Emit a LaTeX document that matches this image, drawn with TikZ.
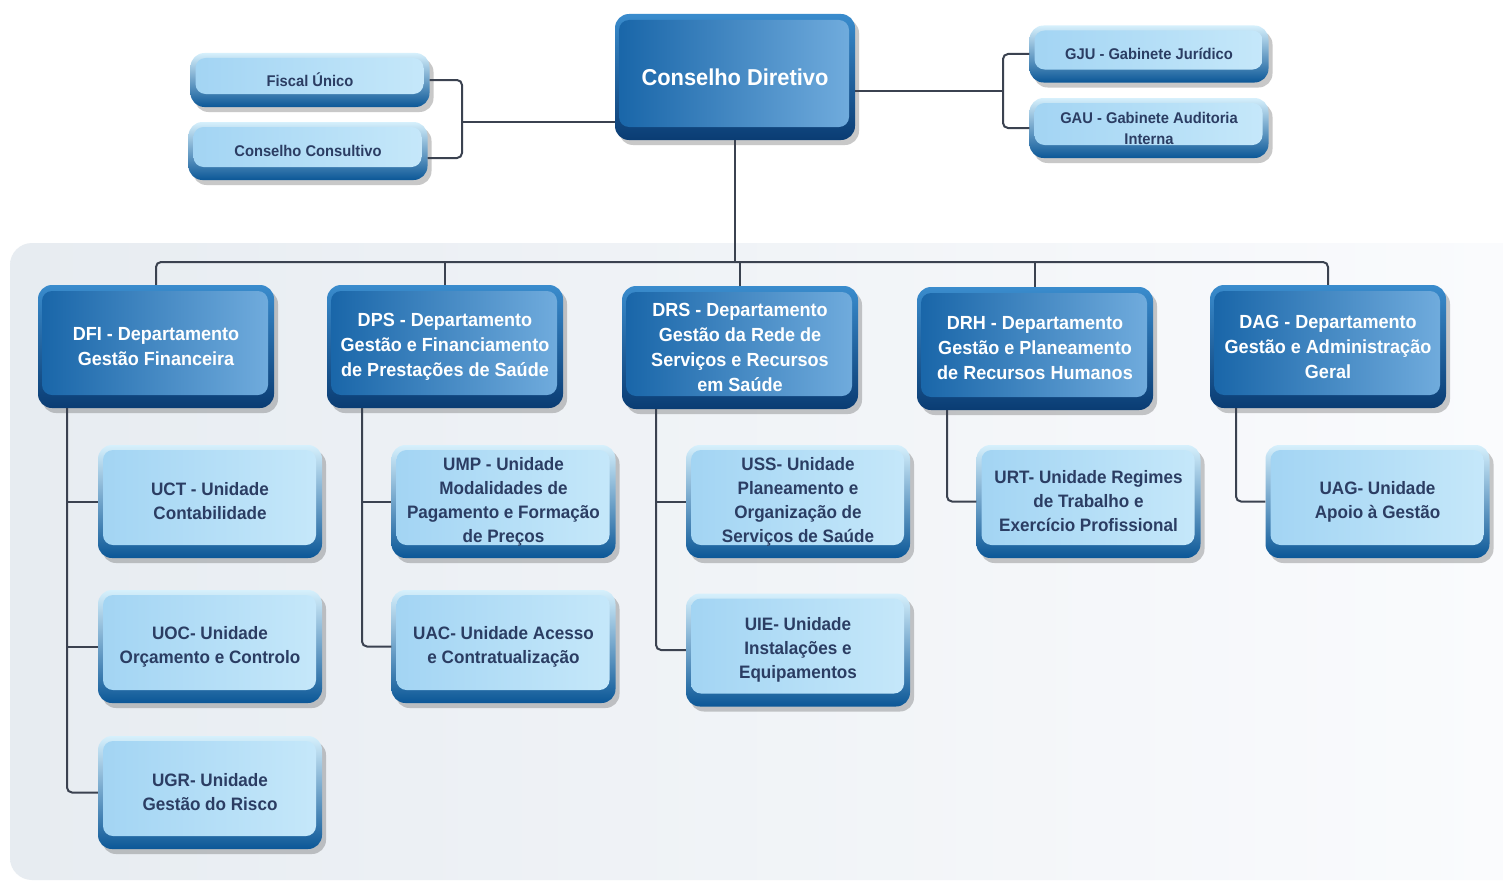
\documentclass[tikz,border=0pt]{standalone}
\usepackage{fontspec}
\setmainfont[FakeStretch=0.95]{Liberation Sans}
\usetikzlibrary{shadows,calc}
\definecolor{dkTop}{HTML}{3A8CCD}
\definecolor{dkBot}{HTML}{0A3C73}
\definecolor{dkL}{HTML}{1865A8}
\definecolor{dkR}{HTML}{72ADDE}
\definecolor{ltTop}{HTML}{D6F0FC}
\definecolor{ltBot}{HTML}{0B5797}
\definecolor{ltL}{HTML}{A2D4F3}
\definecolor{ltR}{HTML}{C6E8FA}
\definecolor{navytext}{HTML}{2B3D63}
\definecolor{connc}{HTML}{3B4250}
\definecolor{panelL}{HTML}{E7ECF1}
\definecolor{panelR}{HTML}{FAFBFD}
\tikzset{
  boxbase/.style={rounded corners=14pt, inner sep=0pt, align=center,
    drop shadow={shadow xshift=4pt, shadow yshift=-5pt, opacity=0.3, fill=black!70}},
  darkbox/.style={boxbase, top color=dkTop, bottom color=dkBot, text=white,
    path picture={\shade[left color=dkL, right color=dkR, rounded corners=10pt]
      ($(path picture bounding box.south west)+(4pt,13pt)$) rectangle
      ($(path picture bounding box.north east)+(-6pt,-6pt)$);}},
  lightbox/.style={boxbase, top color=ltTop, bottom color=ltBot, text=navytext,
    path picture={\shade[left color=ltL, right color=ltR, rounded corners=10pt]
      ($(path picture bounding box.south west)+(5pt,13pt)$) rectangle
      ($(path picture bounding box.north east)+(-6pt,-5pt)$);}},
  topbox/.style={darkbox, minimum width=240pt, minimum height=126pt,
    font=\fontsize{23}{28}\selectfont\bfseries},
  smallbox/.style={lightbox, minimum width=239pt, font=\fontsize{15.5}{21}\selectfont\bfseries},
  deptbox/.style={darkbox, minimum width=236pt, minimum height=123pt,
    font=\fontsize{19}{25}\selectfont\bfseries},
  unitbox/.style={lightbox, minimum width=224pt, minimum height=113pt,
    font=\fontsize{18}{24}\selectfont\bfseries},
  conn/.style={draw=connc, line width=2pt, rounded corners=5pt},
}
\begin{document}
\begin{tikzpicture}[x=1pt,y=-1pt]
\useasboundingbox (0,0) rectangle (1503,883);
\fill[white] (0,0) rectangle (1503,883);
% background panel
\shade[left color=panelL, right color=panelR]
  (1503,880) [rounded corners=22pt] -- (10,880) -- (10,243) [sharp corners] -- (1503,243) -- cycle;

% top level
\node[topbox] (cd) at (735,77) {Conselho Diretivo};
\node[smallbox, minimum height=54pt] (fu) at (310,80) {Fiscal Único};
\node[smallbox, minimum height=58pt] (cc) at (308,151) {Conselho Consultivo};
\node[smallbox, minimum height=57pt] (gju) at (1149,54) {GJU - Gabinete Jurídico};
\node[smallbox, minimum height=60pt] (gau) at (1149,128) {GAU - Gabinete Auditoria\\Interna};

% departments
\node[deptbox] (dfi) at (156,346.5) {DFI - Departamento\\Gestão Financeira};
\node[deptbox] (dps) at (445,346.5) {DPS - Departamento\\Gestão e Financiamento\\de Prestações de Saúde};
\node[deptbox] (drs) at (740,347.5) {DRS - Departamento\\Gestão da Rede de\\Serviços e Recursos\\em Saúde};
\node[deptbox] (drh) at (1035,348.5) {DRH - Departamento\\Gestão e Planeamento\\de Recursos Humanos};
\node[deptbox] (dag) at (1328,346.5) {DAG - Departamento\\Gestão e Administração\\Geral};

% units
\node[unitbox] (uct) at (210,501.5) {UCT - Unidade\\Contabilidade};
\node[unitbox] (uoc) at (210,646.5) {UOC- Unidade\\Orçamento e Controlo};
\node[unitbox] (ugr) at (210,792.5) {UGR- Unidade\\Gestão do Risco};
\node[unitbox] (ump) at (503.5,501.5) {UMP - Unidade\\Modalidades de\\Pagamento e Formação\\de Preços};
\node[unitbox] (uac) at (503.5,646.5) {UAC- Unidade Acesso\\e Contratualização};
\node[unitbox] (uss) at (798,501.5) {USS- Unidade\\Planeamento e\\Organização de\\Serviços de Saúde};
\node[unitbox] (uie) at (798,650) {UIE- Unidade\\Instalações e\\Equipamentos};
\node[unitbox] (urt) at (1088.5,501.5) {URT- Unidade Regimes\\de Trabalho e\\Exercício Profissional};
\node[unitbox] (uag) at (1377.5,501.5) {UAG- Unidade\\Apoio à Gestão};

% connectors top
\coordinate (lb) at (462,122);
\draw[conn] (fu.east) -| (lb) |- ([yshift=-7pt]cc.east);
\draw[conn] (lb) -- (lb -| cd.west);
\coordinate (rb) at (1003,91);
\draw[conn] (cd.east |- rb) -- (rb);
\draw[conn] (gju.west) -| (rb) |- (gau.west);

% bus
\coordinate (bus) at (735,262);
\draw[conn] (cd.south) -- (bus);
\draw[conn] (dfi.north) |- (bus) -| (dag.north);
\foreach \n in {dps,drs,drh} \draw[conn] (\n.north) -- (\n.north |- bus);

% trunks
\coordinate (t1) at ([xshift=-89pt]dfi.south);
\draw[conn] (t1) |- (ugr.west);
\draw[conn] (t1 |- uct.west) -- (uct.west);
\draw[conn] (t1 |- uoc.west) -- (uoc.west);
\coordinate (t2) at ([xshift=-83pt]dps.south);
\draw[conn] (t2) |- (uac.west);
\draw[conn] (t2 |- ump.west) -- (ump.west);
\coordinate (t3) at ([xshift=-84pt]drs.south);
\draw[conn] (t3) |- (uie.west);
\draw[conn] (t3 |- uss.west) -- (uss.west);
\coordinate (t4) at ([xshift=-88pt]drh.south);
\draw[conn] (t4) |- (urt.west);
\coordinate (t5) at ([xshift=-92pt]dag.south);
\draw[conn] (t5) |- (uag.west);
\end{tikzpicture}
\end{document}
